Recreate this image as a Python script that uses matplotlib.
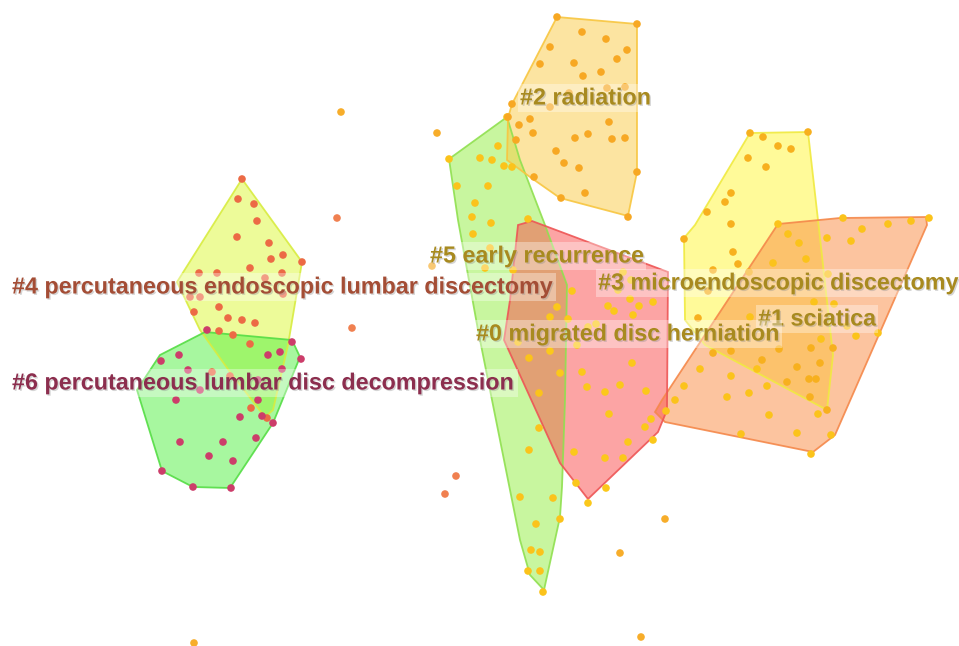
import numpy as np
import matplotlib.pyplot as plt
import matplotlib.patheffects as pe
from matplotlib.patches import Polygon

# cluster hulls (pixel coords of the cluster map)
hull_4 = [(242, 179), (302, 262), (288, 345), (273, 410), (265, 417), (230, 372), (200, 330), (177, 282)]
hull_6 = [(137, 390), (160, 355), (205, 332), (292, 340), (300, 357), (273, 423), (230, 488), (193, 487), (162, 471)]
hull_2 = [(557, 17), (637, 24), (637, 172), (628, 216), (560, 198), (530, 177), (507, 160), (508, 118), (512, 104)]
hull_5 = [(449, 159), (507, 117), (520, 160), (545, 225), (567, 285), (565, 400), (562, 487), (560, 517), (544, 590),
          (530, 575), (520, 540), (478, 330), (458, 220)]
hull_0 = [(518, 225), (532, 221), (668, 272), (667, 410), (658, 432), (588, 499), (560, 463), (504, 340), (510, 300)]
hull_3 = [(750, 133), (808, 132), (818, 220), (833, 355), (827, 410), (705, 345), (685, 320), (684, 238), (695, 225)]
hull_1 = [(778, 224), (840, 218), (926, 217), (927, 225), (835, 435), (813, 452), (665, 422), (655, 412), (662, 400)]

pts_4 = [(242, 179), (238, 199), (254, 204), (257, 221), (237, 237), (269, 243), (283, 255), (271, 259), (302, 262),
         (199, 273), (217, 273), (250, 268), (282, 273), (265, 278), (283, 294), (190, 297), (200, 297), (219, 307),
         (194, 312), (228, 318), (242, 320), (255, 323), (219, 331), (233, 335), (250, 344), (212, 372), (230, 376),
         (251, 408), (267, 418)]
pts_6 = [(207, 330), (292, 342), (280, 352), (268, 355), (301, 359), (179, 355), (161, 361), (188, 370), (282, 369),
         (258, 380), (200, 390), (176, 400), (258, 400), (240, 417), (262, 416), (273, 423), (180, 442), (223, 442),
         (256, 438), (209, 456), (233, 461), (162, 471), (193, 487), (231, 488)]
pts_2 = [(557, 17), (637, 24), (582, 32), (606, 39), (550, 47), (627, 50), (617, 59), (540, 64), (574, 63), (601, 72),
         (583, 76), (607, 88), (625, 87), (569, 93), (550, 107), (512, 104), (508, 117), (530, 119), (519, 125),
         (609, 122), (533, 133), (588, 134), (575, 138), (612, 139), (625, 138), (516, 140), (556, 151), (564, 163),
         (579, 168), (637, 172), (534, 177), (585, 193), (561, 198), (628, 217)]
pts_5 = [(507, 117), (449, 159), (498, 146), (480, 158), (492, 160), (504, 166), (512, 167), (457, 186), (488, 186),
         (475, 203), (472, 217), (491, 223), (473, 234), (528, 219), (490, 248), (485, 268), (513, 270), (518, 342),
         (529, 358), (539, 393), (539, 428), (529, 450), (520, 497), (553, 498), (560, 519), (536, 524), (531, 550),
         (540, 552), (528, 571), (540, 571), (543, 592)]
pts_0 = [(572, 291), (557, 307), (550, 317), (568, 319), (608, 306), (614, 311), (630, 299), (639, 306), (653, 302),
         (633, 315), (623, 272), (631, 280), (618, 290), (588, 327), (596, 324), (550, 351), (577, 345), (560, 373),
         (582, 372), (632, 363), (587, 387), (605, 392), (620, 385), (646, 391), (609, 414), (651, 419), (645, 427),
         (653, 440), (628, 442), (574, 452), (605, 458), (623, 458), (576, 483), (606, 488), (588, 503)]
pts_3 = [(750, 133), (763, 137), (808, 132), (778, 146), (791, 149), (748, 158), (766, 167), (731, 193), (725, 202),
         (707, 212), (731, 224), (684, 239), (733, 252), (738, 264), (713, 270), (749, 272), (708, 291), (698, 318),
         (713, 353), (731, 351), (762, 360), (779, 349), (811, 348), (833, 348), (797, 367), (820, 363), (787, 382),
         (809, 379), (816, 379), (810, 397), (827, 410)]
pts_1 = [(778, 224), (843, 218), (888, 224), (911, 221), (929, 218), (862, 229), (788, 234), (827, 238), (851, 241),
         (799, 243), (806, 259), (773, 263), (828, 274), (814, 302), (834, 304), (847, 326), (856, 336), (878, 333),
         (821, 339), (750, 317), (757, 369), (700, 369), (731, 376), (684, 386), (767, 386), (749, 393), (727, 397),
         (675, 400), (666, 411), (769, 415), (818, 414), (741, 434), (797, 433), (831, 435), (811, 454)]
pts_out_warm = [(337, 218), (352, 328), (456, 476), (445, 494)]
pts_out_gold = [(341, 112), (437, 133), (432, 266), (665, 519), (620, 553), (641, 637), (194, 643)]

# label text, position (left, centre y), colour
labels = ['#2 radiation', '#5 early recurrence', '#4 percutaneous endoscopic lumbar discectomy',
          '#3 microendoscopic discectomy', '#1 sciatica', '#0 migrated disc herniation',
          '#6 percutaneous lumbar disc decompression']
label_xy = [(520, 98), (430, 256), (12, 287), (598, 283), (758, 319), (476, 334), (12, 383)]
gold = '#a88a1f'
label_colors = [gold, gold, '#a44d35', gold, gold, gold, '#8c2e4e']

clusters = [
    (hull_4, pts_4, '#ddf935', '#d8ec40', '#ec6a45'),
    (hull_6, pts_6, '#51f141', '#55dd45', '#cc3d6a'),
    (hull_5, pts_5, '#93ef41', '#90e050', '#fbc31b'),
    (hull_2, pts_2, '#fbcb45', '#f8c640', '#f7a823'),
    (hull_3, pts_3, '#fff735', '#f0ea40', '#f7b01e'),
    (hull_1, pts_1, '#fb8b41', '#f5884a', '#fbc31b'),
    (hull_0, pts_0, '#fb4b4b', '#ee5555', '#fbc81b'),
]

fig = plt.figure(figsize=(9.59, 6.46), dpi=100)
ax = fig.add_axes([0, 0, 1, 1])
ax.set_xlim(0, 959)
ax.set_ylim(646, 0)
ax.axis('off')

for hull, pts, fill, edge, dot in clusters:
    ax.add_patch(Polygon(hull, closed=True, facecolor=fill, alpha=0.5, edgecolor='none', zorder=1))
    ax.add_patch(Polygon(hull, closed=True, facecolor='none', edgecolor=edge, lw=1.3, alpha=0.9, zorder=2))

for hull, pts, fill, edge, dot in clusters:
    p = np.array(pts)
    ax.scatter(p[:, 0], p[:, 1], s=30, color=dot, edgecolors='none', zorder=3)

p = np.array(pts_out_warm)
ax.scatter(p[:, 0], p[:, 1], s=30, color='#f08050', edgecolors='none', zorder=3)
p = np.array(pts_out_gold)
ax.scatter(p[:, 0], p[:, 1], s=30, color='#f7ad2a', edgecolors='none', zorder=3)

shadow = [pe.SimplePatchShadow(offset=(1, -1), shadow_rgbFace='#888888', alpha=0.35), pe.Normal()]
for txt, (x, y), c in zip(labels, label_xy, label_colors):
    ax.text(x, y, txt, color=c, fontsize=16.8, fontweight='bold', family='Liberation Sans',
            ha='left', va='center', zorder=5, path_effects=shadow,
            bbox=dict(boxstyle='square,pad=0.1', facecolor='white', alpha=0.35, edgecolor='none'))

fig.savefig('out.png', dpi=100)
